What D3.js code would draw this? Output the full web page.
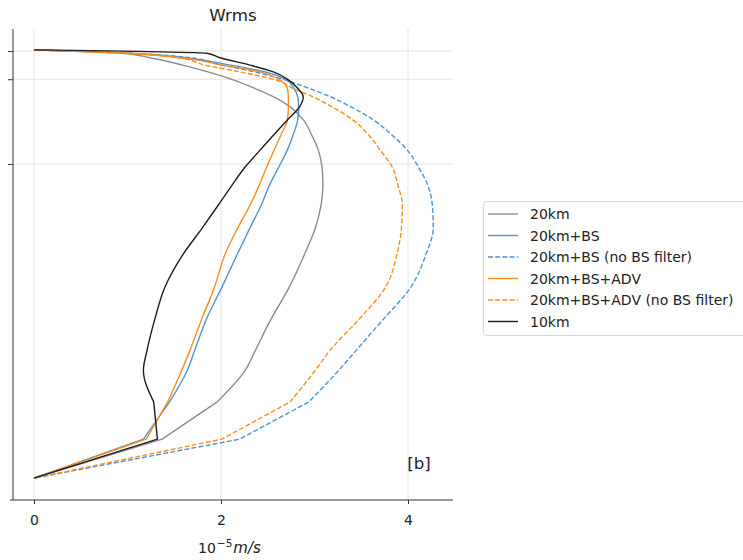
<!DOCTYPE html>
<html>
<head>
<meta charset="utf-8">
<script src="https://cdn.jsdelivr.net/npm/d3@7"></script>
<style>
  html, body { margin: 0; padding: 0; background: #fff; }
  svg text { font-family: "DejaVu Sans", sans-serif; }
</style>
</head>
<body>
<svg id="chart" width="743" height="560"></svg>
<script>
// Vertical levels (pressure-like coordinate, top -> bottom)
const levels = [98, 104, 112, 125, 137, 151, 166, 181, 199, 222, 249, 275, 305, 337, 373, 413, 461, 518, 576, 629, 665, 721, 787, 856];

// Series values (10^-5 m/s) at each level
const w20km      = [0, 0.94, 1.24, 1.59, 1.86, 2.13, 2.36, 2.56, 2.74, 2.88, 2.97, 3.04, 3.08, 3.09, 3.07, 3.01, 2.89, 2.73, 2.53, 2.37, 2.26, 1.96, 1.37, 0];
const w20kmBS    = [0, 1.03, 1.61, 2.10, 2.47, 2.70, 2.78, 2.82, 2.83, 2.82, 2.77, 2.71, 2.62, 2.52, 2.43, 2.31, 2.17, 2.01, 1.84, 1.72, 1.64, 1.45, 1.17, 0];
const w20kmBSnf  = [0, 1.03, 1.67, 2.01, 2.36, 2.68, 2.94, 3.17, 3.39, 3.63, 3.83, 3.99, 4.11, 4.21, 4.26, 4.27, 4.19, 4.03, 3.73, 3.45, 3.26, 2.94, 2.20, 0];
const w20kmBSADV   = [0, 0.97, 1.56, 2.01, 2.42, 2.63, 2.71, 2.72, 2.72, 2.71, 2.64, 2.57, 2.49, 2.41, 2.31, 2.18, 2.04, 1.93, 1.79, 1.67, 1.58, 1.43, 1.20, 0];
const w20kmBSADVnf = [0, 1.01, 1.54, 1.83, 2.20, 2.58, 2.77, 2.98, 3.19, 3.41, 3.58, 3.70, 3.83, 3.89, 3.94, 3.93, 3.88, 3.76, 3.47, 3.17, 3.01, 2.74, 2.01, 0];
const w10km      = [0, 1.85, 1.99, 2.31, 2.56, 2.72, 2.82, 2.88, 2.84, 2.71, 2.56, 2.42, 2.26, 2.12, 1.97, 1.80, 1.59, 1.40, 1.29, 1.21, 1.17, 1.28, 1.32, 0];

const seriesNames = ["20km", "20km+BS", "20km+BS (no BS filter)", "20km+BS+ADV", "20km+BS+ADV (no BS filter)", "10km"];
const seriesValues = [w20km, w20kmBS, w20kmBSnf, w20kmBSADV, w20kmBSADVnf, w10km];
const seriesColors = ["#8c8c8c", "#4f93cf", "#4f93cf", "#ff8c1a", "#ff8c1a", "#1e1e1e"];
const seriesDashed = [false, false, true, false, true, false];

const xTicks = [0, 2, 4];
const xTickLabels = ["0", "2", "4"];
const yTicks = [100, 150, 300];

const svg = d3.select("#chart");
const pLeft = 13, pRight = 453, pTop = 29, pBottom = 500;

const x = d3.scaleLinear().domain([-0.2246, 4.481]).range([pLeft, pRight]);
const y = d3.scaleLinear().domain([61.1, 894.7]).range([pTop, pBottom]);

// grid
const grid = svg.append("g");
grid.selectAll("line.vx").data(xTicks).join("line")
  .attr("x1", d => x(d)).attr("x2", d => x(d))
  .attr("y1", pTop).attr("y2", pBottom)
  .attr("stroke", "#e3e3e3").attr("stroke-width", 1);
grid.selectAll("line.hy").data(yTicks).join("line")
  .attr("x1", pLeft).attr("x2", pRight)
  .attr("y1", d => y(d)).attr("y2", d => y(d))
  .attr("stroke", "#e3e3e3").attr("stroke-width", 1);

// lines: smooth upper profile, straight near-surface segments
const smoothLine = d3.line().x(d => x(d[0])).y(d => y(d[1])).curve(d3.curveMonotoneY);
const straightLine = d3.line().x(d => x(d[0])).y(d => y(d[1]));
const splitIdx = 21;
seriesValues.forEach((vals, i) => {
  const pts = vals.map((v, k) => [v, levels[k]]);
  const dUpper = smoothLine(pts.slice(0, splitIdx + 1));
  const dLower = straightLine(pts.slice(splitIdx));
  svg.append("path")
    .attr("d", dUpper + dLower.replace(/^M[^LC]*/, "L" + dLower.match(/^M([^LC]*)/)[1]))
    .attr("fill", "none")
    .attr("stroke", seriesColors[i])
    .attr("stroke-width", 1.4)
    .attr("stroke-linejoin", "round")
    .attr("stroke-dasharray", seriesDashed[i] ? "5,2.2" : null);
});

// axes
const xAxis = d3.axisBottom(x).tickValues(xTicks).tickFormat((d, i) => xTickLabels[i]).tickSize(4).tickSizeOuter(0);
const gx = svg.append("g").attr("transform", `translate(0,${pBottom})`).call(xAxis);
gx.select(".domain").attr("d", `M${pLeft - 3},0H${pRight}`).attr("stroke", "#333");
gx.selectAll(".tick line").attr("stroke", "#333");
gx.selectAll(".tick text").attr("font-size", 14).attr("fill", "#222").attr("y", 25).attr("dy", 0);

const yAxis = d3.axisLeft(y).tickValues(yTicks).tickFormat("").tickSize(5).tickSizeOuter(0);
const gy = svg.append("g").attr("transform", `translate(${pLeft},0)`).call(yAxis);
gy.select(".domain").attr("d", `M0,${pTop}V${pBottom}`).attr("stroke", "#333");
gy.selectAll(".tick line").attr("stroke", "#333");

// title
svg.append("text").attr("x", (pLeft + pRight) / 2).attr("y", 21)
  .attr("text-anchor", "middle").attr("font-size", 16.7).attr("fill", "#222").text("Wrms");

// x label
const xl = svg.append("text").attr("x", 198).attr("y", 553)
  .attr("text-anchor", "start").attr("font-size", 14).attr("fill", "#222");
xl.append("tspan").text("10");
xl.append("tspan").attr("dy", -6).attr("dx", 1).attr("font-size", 10.5).text("−5");
xl.append("tspan").attr("dy", 6).attr("dx", 1).attr("font-size", 15).attr("font-style", "italic").text("m/s");

// panel label
svg.append("text").attr("x", 419).attr("y", 469)
  .attr("text-anchor", "middle").attr("font-size", 16.7).attr("fill", "#222").text("[b]");

// legend
const lg = svg.append("g");
lg.append("rect").attr("x", 483.5).attr("y", 201.5).attr("width", 270).attr("height", 134)
  .attr("rx", 3).attr("fill", "#fff").attr("stroke", "#d6d6d6");
seriesNames.forEach((name, i) => {
  const yy = 214 + i * 21.5;
  lg.append("line").attr("x1", 488).attr("x2", 518).attr("y1", yy).attr("y2", yy)
    .attr("stroke", seriesColors[i]).attr("stroke-width", 1.4)
    .attr("stroke-dasharray", seriesDashed[i] ? "5,2.2" : null);
  lg.append("text").attr("x", 530).attr("y", yy + 5).attr("font-size", 14)
    .attr("fill", "#222").text(name);
});
</script>
</body>
</html>
